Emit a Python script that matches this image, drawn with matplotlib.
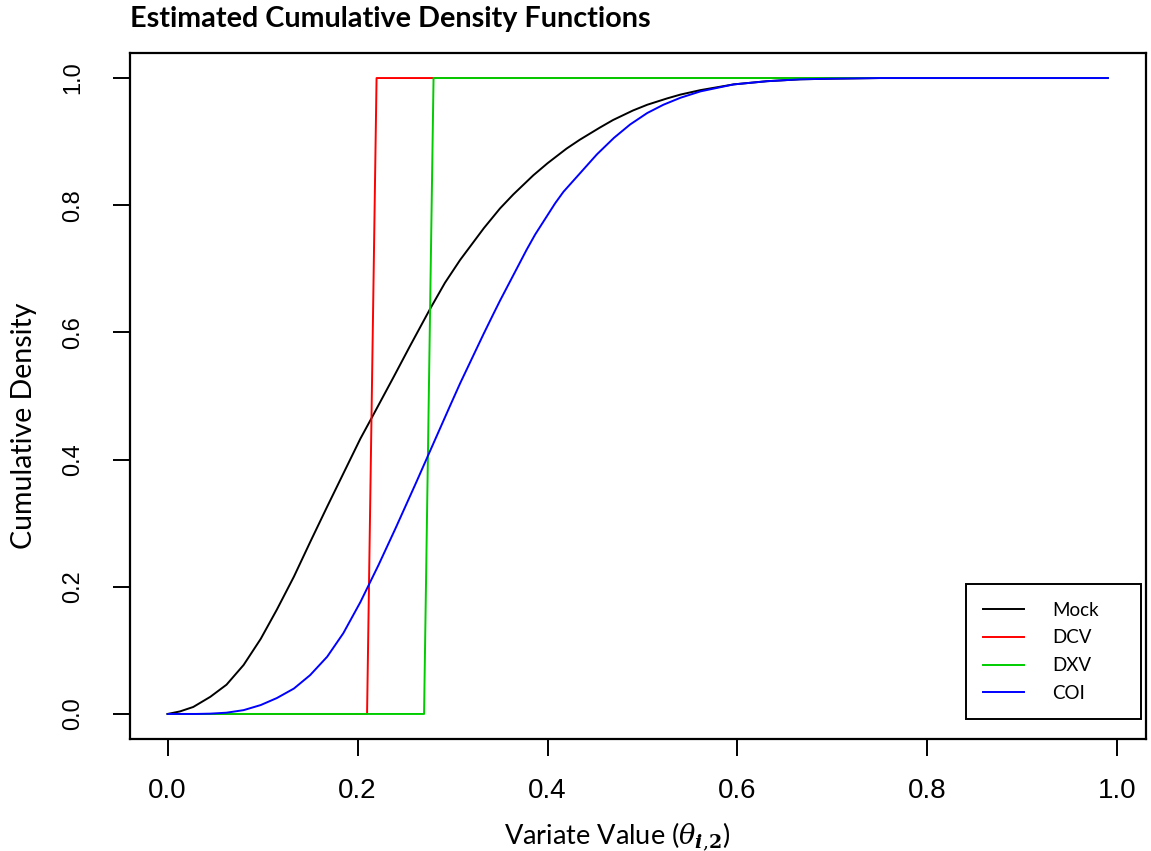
import numpy as np
import matplotlib
matplotlib.use('Agg')
from matplotlib import pyplot as plt

plt.rcParams['mathtext.fontset'] = 'dejavuserif'

# values
mock_x = [0.0, 0.013, 0.027, 0.045, 0.062, 0.080, 0.098, 0.115, 0.133, 0.150,
          0.168, 0.185, 0.203, 0.215, 0.238, 0.255, 0.276, 0.292, 0.308, 0.333,
          0.350, 0.364, 0.385, 0.400, 0.420, 0.434, 0.455, 0.469, 0.490, 0.505,
          0.526, 0.540, 0.561, 0.596, 0.631, 0.666, 0.700, 0.750, 0.800, 0.900, 0.990]
mock_y = [0.0, 0.004, 0.011, 0.027, 0.046, 0.077, 0.118, 0.164, 0.216, 0.270,
          0.326, 0.378, 0.433, 0.466, 0.530, 0.578, 0.636, 0.678, 0.714, 0.764,
          0.795, 0.817, 0.847, 0.866, 0.889, 0.903, 0.922, 0.934, 0.949, 0.958,
          0.968, 0.974, 0.981, 0.990, 0.995, 0.998, 0.999, 1.0, 1.0, 1.0, 1.0]

coi_x = [0.0, 0.030, 0.045, 0.062, 0.080, 0.098, 0.115, 0.133, 0.150, 0.168,
         0.185, 0.203, 0.2115, 0.222, 0.240, 0.262, 0.2747, 0.2975, 0.308, 0.315,
         0.3325, 0.343, 0.350, 0.378, 0.387, 0.408, 0.4167, 0.452, 0.470, 0.487,
         0.505, 0.522, 0.540, 0.561, 0.596, 0.631, 0.666, 0.700, 0.750, 0.800,
         0.900, 0.990]
coi_y = [0.0, 0.0, 0.0005, 0.002, 0.006, 0.014, 0.025, 0.040, 0.061, 0.090,
         0.127, 0.176, 0.202, 0.234, 0.292, 0.365, 0.408, 0.485, 0.520, 0.542,
         0.597, 0.629, 0.650, 0.730, 0.754, 0.803, 0.821, 0.880, 0.906, 0.927,
         0.945, 0.958, 0.969, 0.979, 0.990, 0.995, 0.998, 0.999, 1.0, 1.0,
         1.0, 1.0]

dcv_x = [0.0, 0.21, 0.22, 0.99]
dcv_y = [0.0, 0.0, 1.0, 1.0]

dxv_x = [0.0, 0.27, 0.28, 0.99]
dxv_y = [0.0, 0.0, 1.0, 1.0]

series = [('Mock', mock_x, mock_y, 'black'),
          ('DCV', dcv_x, dcv_y, 'red'),
          ('DXV', dxv_x, dxv_y, '#00CD00'),
          ('COI', coi_x, coi_y, 'blue')]

ticks = [0.0, 0.2, 0.4, 0.6, 0.8, 1.0]

W, H = 1151, 851
fig = plt.figure(figsize=(W / 100, H / 100), dpi=100)
# axes box in pixels: left 130, right 1145.5, top 52.6, bottom 739.4
ax = fig.add_axes([130 / W, 1 - 739.4 / H, 1015.5 / W, 686.8 / H])

for name, x, y, c in series:
    ax.plot(x, y, color=c, lw=1.4, label=name)

# R style 4% padding
ax.set_xlim(-0.0396, 1.0296)
ax.set_ylim(-0.04, 1.04)
ax.set_xticks(ticks)
ax.set_yticks(ticks)
ax.set_xticklabels(['%.1f' % t for t in ticks], family='Liberation Sans', fontsize=20)
ax.set_yticklabels(['%.1f' % t for t in ticks], family='Liberation Sans', fontsize=17,
                   rotation=90, va='center')
ax.tick_params(axis='both', direction='out', length=12, width=1.4, color='black')
ax.tick_params(axis='x', pad=16)
ax.tick_params(axis='y', pad=21)
for s in ax.spines.values():
    s.set_linewidth(1.6)

leg = ax.legend(loc='lower left', bbox_to_anchor=(0.8232, 0.0297, 0.1723, 0.198),
                mode='expand', borderaxespad=0, fancybox=False, framealpha=1,
                edgecolor='black', prop={'family': 'Lato', 'size': 13.5},
                handlelength=2.2, handletextpad=1.5, labelspacing=0.57,
                borderpad=0.92)
leg.get_frame().set_linewidth(1.4)

fig.text(130 / W, 1 - 27 / H, 'Estimated Cumulative Density Functions',
         family='Lato', fontweight='bold', fontsize=20.7, ha='left', va='baseline')
fig.text(617 / W, 1 - 844 / H, r'Variate Value ($\theta_{\boldsymbol{i{,}2}}$)',
         family='Lato', fontsize=19.5, ha='center', va='baseline')
fig.text(24 / W, 1 - 426 / H, 'Cumulative Density', family='Lato', fontsize=20.5,
         rotation=90, ha='center', va='center')

fig.savefig('out.png', dpi=100)
